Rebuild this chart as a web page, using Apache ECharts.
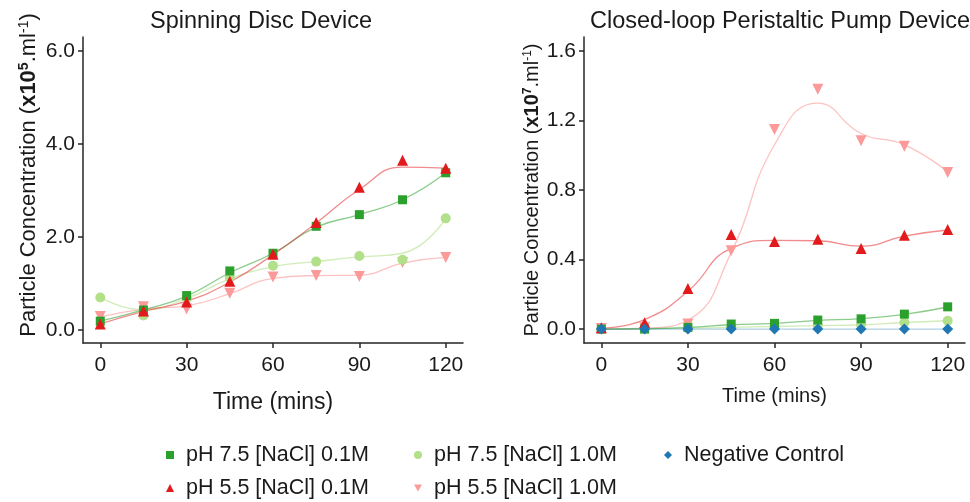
<!DOCTYPE html>
<html>
<head>
<meta charset="utf-8">
<script src="https://cdn.jsdelivr.net/npm/echarts@6/dist/echarts.min.js"></script>
<style>
html,body{margin:0;padding:0;background:#fff;}
#chart{width:970px;height:502px;}
</style>
</head>
<body>
<div id="chart"></div>
<script>
// ---------- data ----------
const timeMins = [0, 15, 30, 45, 60, 75, 90, 105, 120];
const xTicks = [0, 30, 60, 90, 120];
const yTicksSpin = [0, 2, 4, 6];
const yTicksPump = [0, 0.4, 0.8, 1.2, 1.6];

const seriesNames = ['pH 7.5 [NaCl] 0.1M', 'pH 7.5 [NaCl] 1.0M', 'Negative Control', 'pH 5.5 [NaCl] 0.1M', 'pH 5.5 [NaCl] 1.0M'];

// Spinning Disc Device (x10^5 /ml) – measured points
const spin_pH75_01 = [0.19, 0.43, 0.74, 1.27, 1.65, 2.23, 2.48, 2.80, 3.38];
const spin_pH75_10 = [0.70, 0.31, 0.68, 1.13, 1.38, 1.47, 1.59, 1.51, 2.40];
const spin_pH55_01 = [0.13, 0.41, 0.60, 1.05, 1.63, 2.31, 3.07, 3.65, 3.48];
const spin_pH55_10 = [0.29, 0.50, 0.45, 0.79, 1.14, 1.17, 1.15, 1.45, 1.56];
// Spinning Disc Device – fitted curves
const spinFit_pH75_01 = [0.19, 0.43, 0.73, 1.23, 1.65, 2.21, 2.48, 2.80, 3.38];
const spinFit_pH75_10 = [0.70, 0.43, 0.68, 1.10, 1.36, 1.47, 1.57, 1.65, 2.40];
const spinFit_pH55_01 = [0.13, 0.40, 0.62, 1.03, 1.62, 2.30, 3.02, 3.50, 3.48];
const spinFit_pH55_10 = [0.28, 0.45, 0.52, 0.78, 1.11, 1.17, 1.18, 1.44, 1.56];

// Closed-loop Peristaltic Pump Device (x10^7 /ml) – measured points
const pump_pH75_01 = [0.000, 0.000, 0.010, 0.029, 0.033, 0.052, 0.059, 0.086, 0.128];
const pump_pH75_10 = [0.000, 0.003, 0.005, 0.010, 0.015, 0.020, 0.025, 0.038, 0.048];
const pump_neg     = [0.000, 0.000, 0.000, 0.000, 0.000, 0.000, 0.000, 0.000, 0.000];
const pump_pH55_01 = [0.008, 0.036, 0.234, 0.544, 0.504, 0.517, 0.464, 0.540, 0.573];
const pump_pH55_10 = [0.004, 0.008, 0.029, 0.450, 1.148, 1.380, 1.083, 1.052, 0.900];
// Closed-loop – fitted curves
const pumpFit_pH75_01 = [0.000, 0.002, 0.010, 0.025, 0.033, 0.050, 0.060, 0.085, 0.127];
const pumpFit_pH75_10 = [0.000, 0.003, 0.005, 0.010, 0.015, 0.020, 0.025, 0.038, 0.048];
const pumpFit_neg     = [0.000, 0.000, 0.000, 0.000, 0.000, 0.000, 0.000, 0.000, 0.000];
const pumpFit_pH55_01 = [0.005, 0.055, 0.218, 0.464, 0.510, 0.508, 0.477, 0.535, 0.570];
const pumpFit_pH55_10 = [0.000, 0.005, 0.052, 0.440, 1.060, 1.300, 1.125, 1.060, 0.905];

// ---------- styles ----------
const FONT = '"Liberation Sans", Arial, Helvetica, sans-serif';
const TXT = '#1a1a1a';
const AX = '#262626';
const colors = {
  'pH 7.5 [NaCl] 0.1M': '#2ca02c',
  'pH 7.5 [NaCl] 1.0M': '#b2df8a',
  'Negative Control': '#1f78b4',
  'pH 5.5 [NaCl] 0.1M': '#e31a1c',
  'pH 5.5 [NaCl] 1.0M': '#fb9a99'
};
const lineColors = {
  'pH 7.5 [NaCl] 0.1M': 'rgba(44,160,44,0.55)',
  'pH 7.5 [NaCl] 1.0M': 'rgba(178,223,138,0.6)',
  'Negative Control': 'rgba(31,120,180,0.35)',
  'pH 5.5 [NaCl] 0.1M': 'rgba(227,26,28,0.5)',
  'pH 5.5 [NaCl] 1.0M': 'rgba(251,154,153,0.6)'
};
const symbols = {
  'pH 7.5 [NaCl] 0.1M': {symbol: 'rect', size: 9, rotate: 0},
  'pH 7.5 [NaCl] 1.0M': {symbol: 'circle', size: 10, rotate: 0},
  'Negative Control': {symbol: 'diamond', size: 11, rotate: 0},
  'pH 5.5 [NaCl] 0.1M': {symbol: 'triangle', size: 11, rotate: 0},
  'pH 5.5 [NaCl] 1.0M': {symbol: 'triangle', size: 11, rotate: 180}
};
const legendIcons = {
  'pH 7.5 [NaCl] 0.1M': 'rect',
  'pH 7.5 [NaCl] 1.0M': 'circle',
  'Negative Control': 'diamond',
  'pH 5.5 [NaCl] 0.1M': 'triangle',
  'pH 5.5 [NaCl] 1.0M': 'path://M0,0L10,0L5,9Z'
};

function pairs(xs, ys) { return xs.map((x, i) => [x, ys[i]]); }

function fitLine(name, ys, idx) {
  return {
    name: 'fit ' + name + ' ' + idx, type: 'line', xAxisIndex: idx, yAxisIndex: idx,
    data: pairs(timeMins, ys), smooth: 0.5, showSymbol: false, symbol: 'none',
    lineStyle: {color: lineColors[name], width: 1.3}, itemStyle: {color: lineColors[name]},
    z: 2, silent: true, animation: false
  };
}
function points(name, ys, idx, z) {
  const s = symbols[name];
  return {
    name: name, type: 'scatter', xAxisIndex: idx, yAxisIndex: idx,
    data: pairs(timeMins, ys), symbol: s.symbol, symbolSize: s.size, symbolRotate: s.rotate,
    itemStyle: {color: colors[name], opacity: 1}, z: z, animation: false
  };
}

function xAxis(idx, gap, nameSize) {
  return {
    gridIndex: idx, type: 'value', min: -6, max: 126,
    axisLine: {show: true, onZero: false, lineStyle: {color: AX, width: 1.5}},
    axisTick: {show: true, customValues: xTicks, length: 5, lineStyle: {color: AX, width: 1.5}},
    axisLabel: {customValues: xTicks, fontSize: 21, color: TXT, fontFamily: FONT, margin: 12},
    splitLine: {show: false},
    name: 'Time (mins)', nameLocation: 'middle', nameGap: gap,
    nameTextStyle: {fontSize: nameSize, color: TXT, fontFamily: FONT}
  };
}
function yAxis(idx, min, max, ticks, exp, gap, size, pad) {
  const sup = Math.round(size * 0.62);
  return {
    gridIndex: idx, type: 'value', min: min, max: max,
    axisLine: {show: true, onZero: false, lineStyle: {color: AX, width: 1.5}},
    axisTick: {show: true, customValues: ticks, length: 5, lineStyle: {color: AX, width: 1.5}},
    axisLabel: {customValues: ticks, fontSize: 21, color: TXT, fontFamily: FONT, margin: 8,
      formatter: v => v.toFixed(1)},
    splitLine: {show: false},
    name: '{n|Particle Concentration (}{b|x10}{sb|' + exp + '}{n|.ml}{s|-1}{n|)}',
    nameLocation: 'middle', nameGap: gap,
    nameTextStyle: {
      color: TXT, fontFamily: FONT, padding: pad,
      rich: {
        n: {fontSize: size, color: TXT, fontFamily: FONT, lineHeight: size + 2},
        b: {fontSize: size, color: TXT, fontFamily: FONT, fontWeight: 'bold', lineHeight: size + 2},
        sb: {fontSize: sup, color: TXT, fontFamily: FONT, fontWeight: 'bold', verticalAlign: 'top', lineHeight: size + 2},
        s: {fontSize: sup, color: TXT, fontFamily: FONT, fontWeight: 'normal', verticalAlign: 'top', lineHeight: size + 2}
      }
    }
  };
}

const legendPos = [
  {name: 'pH 7.5 [NaCl] 0.1M', left: 166, top: 444},
  {name: 'pH 7.5 [NaCl] 1.0M', left: 414, top: 444},
  {name: 'Negative Control', left: 664, top: 444},
  {name: 'pH 5.5 [NaCl] 0.1M', left: 166, top: 477},
  {name: 'pH 5.5 [NaCl] 1.0M', left: 414, top: 477}
];

const option = {
  backgroundColor: '#ffffff',
  animation: false,
  title: [
    {text: 'Spinning Disc Device', left: 256, top: 5, textAlign: 'center',
      textStyle: {fontSize: 23.5, fontWeight: 'normal', color: TXT, fontFamily: FONT}},
    {text: 'Closed-loop Peristaltic Pump Device', left: 775, top: 5, textAlign: 'center',
      textStyle: {fontSize: 23.5, fontWeight: 'normal', color: TXT, fontFamily: FONT}}
  ],
  grid: [
    {left: 83, top: 37, width: 380, height: 306, containLabel: false},
    {left: 584, top: 37, width: 381, height: 306, containLabel: false}
  ],
  legend: legendPos.map(p => ({
    left: p.left, top: p.top, padding: 0, itemWidth: 8, itemHeight: 8, symbolRotate: 0,
    selectedMode: false,
    data: [{name: p.name, icon: legendIcons[p.name]}],
    textStyle: {fontSize: 21.5, color: TXT, fontFamily: FONT, padding: [0, 0, 0, 7]}
  })),
  xAxis: [xAxis(0, 48, 23), xAxis(1, 43, 20)],
  yAxis: [
    yAxis(0, -0.28, 6.3, yTicksSpin, '5', 42, 22, [0, 0, 0, 30]),
    yAxis(1, -0.08, 1.68, yTicksPump, '7', 40, 20, 0)
  ],
  series: [
    // spinning disc lines
    fitLine('pH 5.5 [NaCl] 1.0M', spinFit_pH55_10, 0),
    fitLine('pH 7.5 [NaCl] 1.0M', spinFit_pH75_10, 0),
    fitLine('pH 7.5 [NaCl] 0.1M', spinFit_pH75_01, 0),
    fitLine('pH 5.5 [NaCl] 0.1M', spinFit_pH55_01, 0),
    // pump lines
    fitLine('pH 5.5 [NaCl] 1.0M', pumpFit_pH55_10, 1),
    fitLine('pH 7.5 [NaCl] 1.0M', pumpFit_pH75_10, 1),
    fitLine('pH 7.5 [NaCl] 0.1M', pumpFit_pH75_01, 1),
    fitLine('pH 5.5 [NaCl] 0.1M', pumpFit_pH55_01, 1),
    fitLine('Negative Control', pumpFit_neg, 1),
    // spinning disc points
    points('pH 5.5 [NaCl] 1.0M', spin_pH55_10, 0, 3),
    points('pH 7.5 [NaCl] 1.0M', spin_pH75_10, 0, 4),
    points('pH 7.5 [NaCl] 0.1M', spin_pH75_01, 0, 5),
    points('pH 5.5 [NaCl] 0.1M', spin_pH55_01, 0, 6),
    // pump points
    points('pH 5.5 [NaCl] 1.0M', pump_pH55_10, 1, 3),
    points('pH 7.5 [NaCl] 1.0M', pump_pH75_10, 1, 4),
    points('pH 7.5 [NaCl] 0.1M', pump_pH75_01, 1, 5),
    points('pH 5.5 [NaCl] 0.1M', pump_pH55_01, 1, 6),
    points('Negative Control', pump_neg, 1, 7)
  ]
};

const chart = echarts.init(document.getElementById('chart'), null, {renderer: 'canvas'});
chart.setOption(option);
</script>
</body>
</html>
